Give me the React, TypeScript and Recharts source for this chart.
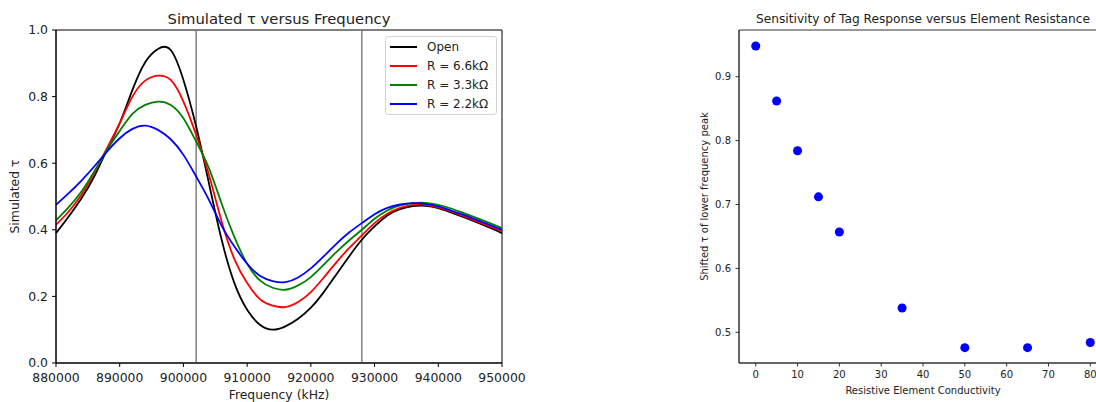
import React from "react";
import {
  LineChart,
  Line,
  ScatterChart,
  Scatter,
  XAxis,
  YAxis,
  ZAxis,
  Legend,
  ReferenceLine,
  ReferenceArea,
} from "recharts";

// left panel: simulated tau vs frequency
const freqs = [
  880000, 882000, 884000, 886000, 888000, 890000, 892000, 894000, 896000, 898000,
  900000, 902000, 904000, 906000, 908000, 910000, 912000, 914000, 916000, 918000,
  920000, 922000, 924000, 926000, 928000, 930000, 932000, 934000, 936000, 938000,
  940000, 942000, 944000, 946000, 948000, 950000,
];
const tauOpen = [
  0.39, 0.44, 0.495, 0.56, 0.64, 0.72, 0.82, 0.903, 0.943, 0.94,
  0.85, 0.71, 0.54, 0.37, 0.24, 0.16, 0.115, 0.1, 0.11, 0.133,
  0.166, 0.212, 0.266, 0.32, 0.37, 0.41, 0.443, 0.462, 0.471, 0.472,
  0.465, 0.452, 0.438, 0.423, 0.407, 0.39,
];
const tauR66 = [
  0.415, 0.455, 0.505, 0.57, 0.645, 0.72, 0.8, 0.848, 0.863, 0.85,
  0.785, 0.685, 0.565, 0.425, 0.312, 0.24, 0.192, 0.172, 0.168, 0.183,
  0.213, 0.256, 0.302, 0.345, 0.383, 0.42, 0.448, 0.466, 0.475, 0.475,
  0.467, 0.455, 0.441, 0.426, 0.411, 0.395,
];
const tauR33 = [
  0.428, 0.468, 0.515, 0.575, 0.64, 0.697, 0.748, 0.775, 0.785, 0.775,
  0.735, 0.665, 0.585, 0.478, 0.378, 0.298, 0.248, 0.226, 0.22, 0.233,
  0.258, 0.295, 0.333, 0.368, 0.4, 0.433, 0.458, 0.473, 0.48, 0.481,
  0.475, 0.464, 0.45, 0.436, 0.421, 0.405,
];
const tauR22 = [
  0.475, 0.51, 0.548, 0.59, 0.635, 0.675, 0.703, 0.713, 0.7, 0.672,
  0.625, 0.56, 0.49, 0.412, 0.35, 0.298, 0.262, 0.246, 0.243, 0.257,
  0.284, 0.32, 0.358, 0.392, 0.42, 0.447, 0.466, 0.476, 0.48, 0.478,
  0.47, 0.458, 0.445, 0.43, 0.415, 0.4,
];
const markerFreqs = [902000, 928000];
const freqTicks = [880000, 890000, 900000, 910000, 920000, 930000, 940000, 950000];
const tauTicks = [0, 0.2, 0.4, 0.6, 0.8, 1.0];

const series = [
  { key: "open", name: "Open", color: "#000000" },
  { key: "r66", name: "R = 6.6kΩ", color: "#ff0000" },
  { key: "r33", name: "R = 3.3kΩ", color: "#008000" },
  { key: "r22", name: "R = 2.2kΩ", color: "#0000ff" },
];

// right panel: peak tau vs conductivity
const conductivity = [0, 5, 10, 15, 20, 35, 50, 65, 80];
const peakTau = [0.948, 0.862, 0.784, 0.712, 0.657, 0.538, 0.476, 0.476, 0.484];
const condTicks = [0, 10, 20, 30, 40, 50, 60, 70, 80];
const peakTicks = [0.5, 0.6, 0.7, 0.8, 0.9];

const FONT = "DejaVu Sans";
const TXT = "#222";

const lineData = freqs.map((f, i) => ({
  f,
  open: tauOpen[i],
  r66: tauR66[i],
  r33: tauR33[i],
  r22: tauR22[i],
}));
const scatterData = conductivity.map((c, i) => ({ c, tau: peakTau[i] }));

const renderLegend = (props: any) => {
  const payload = [...(props.payload || [])].sort(
    (a: any, b: any) =>
      series.findIndex((s) => s.key === a.dataKey) - series.findIndex((s) => s.key === b.dataKey)
  );
  return (
    <div
      style={{
        width: 112,
        height: 79,
        boxSizing: "border-box",
        border: "1px solid #d4d4d4",
        borderRadius: 3,
        background: "rgba(255,255,255,0.8)",
      }}
    >
      {payload.map((p: any) => (
        <div key={p.value} style={{ display: "flex", alignItems: "center", height: 19.2 }}>
          <div style={{ width: 27, height: 2, marginLeft: 4, background: p.color }} />
          <span style={{ marginLeft: 10, fontSize: 12, fontFamily: FONT, color: TXT, lineHeight: 1 }}>
            {p.value}
          </span>
        </div>
      ))}
    </div>
  );
};

export default function App() {
  return (
    <div
      style={{
        position: "absolute",
        left: 0,
        top: 0,
        width: 1096,
        height: 402,
        overflow: "hidden",
        background: "#fff",
        fontFamily: FONT,
      }}
    >
      <div
        style={{
          position: "absolute",
          left: 56,
          width: 446,
          top: 11.5,
          textAlign: "center",
          fontSize: 14.8,
          lineHeight: 1,
          color: TXT,
        }}
      >
        Simulated τ versus Frequency
      </div>
      <div style={{ position: "absolute", left: 0, top: 0 }}>
        <LineChart width={545} height={402} data={lineData} margin={{ top: 30, right: 43, left: 0, bottom: 0 }}>
          <XAxis
            dataKey="f"
            type="number"
            domain={[880000, 950000]}
            ticks={freqTicks}
            height={39}
            tickSize={4}
            tickMargin={6.5}
            stroke="#000"
            interval={0}
            tick={{ fontSize: 12.4, fill: TXT, fontFamily: FONT }}
            label={{ value: "Frequency (kHz)", position: "insideBottom", offset: 3, fontSize: 12.4, fill: TXT }}
          />
          <YAxis
            type="number"
            domain={[0, 1]}
            ticks={tauTicks}
            width={56}
            tickSize={4}
            tickMargin={4}
            stroke="#000"
            tickFormatter={(v) => Number(v).toFixed(1)}
            tick={{ fontSize: 12.4, fill: TXT, fontFamily: FONT }}
            label={{
              value: "Simulated τ",
              angle: -90,
              position: "insideLeft",
              offset: 15,
              fontSize: 12.4,
              fill: TXT,
              style: { textAnchor: "middle" },
            }}
          />
          <ReferenceArea x1={880000} x2={950000} y1={0} y2={1} fill="none" stroke="#000" strokeWidth={1} />
          {markerFreqs.map((m) => (
            <ReferenceLine key={m} x={m} stroke="#7f7f7f" strokeWidth={1.5} />
          ))}
          {series.map((s) => (
            <Line
              key={s.key}
              type="natural"
              dataKey={s.key}
              name={s.name}
              stroke={s.color}
              strokeWidth={1.8}
              dot={false}
              isAnimationActive={false}
            />
          ))}
          <Legend
            layout="vertical"
            align="center"
            verticalAlign="middle"
            content={renderLegend}
            wrapperStyle={{ left: 385, top: 36, width: 112, height: 79 }}
          />
        </LineChart>
      </div>

      <div
        style={{
          position: "absolute",
          left: 739,
          width: 368,
          top: 13.2,
          textAlign: "center",
          fontSize: 12.2,
          lineHeight: 1,
          color: TXT,
          whiteSpace: "nowrap",
        }}
      >
        Sensitivity of Tag Response versus Element Resistance
      </div>
      <div style={{ position: "absolute", left: 680, top: 0 }}>
        <ScatterChart width={427} height={402} margin={{ top: 30, right: 0, left: 0, bottom: 0 }}>
          <XAxis
            dataKey="c"
            type="number"
            domain={[-4, 84]}
            ticks={condTicks}
            height={39}
            tickSize={3.5}
            tickMargin={4}
            stroke="#333"
            interval={0}
            tick={{ fontSize: 10, fill: TXT, fontFamily: FONT }}
            label={{ value: "Resistive Element Conductivity", position: "insideBottom", offset: 8, fontSize: 10, fill: TXT }}
          />
          <YAxis
            dataKey="tau"
            type="number"
            domain={[0.452, 0.973]}
            ticks={peakTicks}
            width={59}
            tickSize={3.5}
            tickMargin={4.5}
            stroke="#333"
            tickFormatter={(v) => Number(v).toFixed(1)}
            tick={{ fontSize: 10, fill: TXT, fontFamily: FONT }}
            label={{
              value: "Shifted τ of lower frequency peak",
              angle: -90,
              position: "insideLeft",
              offset: 24,
              fontSize: 10,
              fill: TXT,
              style: { textAnchor: "middle" },
            }}
          />
          <ZAxis type="number" range={[40, 40]} />
          <ReferenceArea x1={-4} x2={84} y1={0.452} y2={0.973} fill="none" stroke="#333" strokeWidth={1} />
          <Scatter data={scatterData} fill="#0000ff" isAnimationActive={false} />
        </ScatterChart>
      </div>
    </div>
  );
}
